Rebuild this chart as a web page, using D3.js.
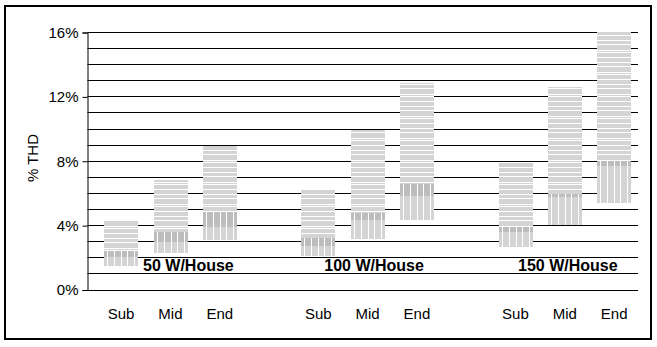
<!DOCTYPE html>
<html>
<head>
<meta charset="utf-8">
<script src="https://cdn.jsdelivr.net/npm/d3@7"></script>
<style>
  body { margin: 0; background: #fff; }
  svg { display: block; font-family: Arial, "Liberation Sans", sans-serif; }
</style>
</head>
<body>
<svg id="chart" width="657" height="347"></svg>
<script>
// data (% THD)
const groups = ["50 W/House", "100 W/House", "150 W/House"]
const positions = ["Sub", "Mid", "End"]
const highs     = [4.29, 6.83, 8.94,  6.2, 9.88, 12.8,  7.9, 12.6, 16.0]
const splits    = [2.38, 3.56, 4.84,  3.2, 4.78, 6.57,  3.91, 5.94, 8.0]
const darkLows  = [2.05, 2.94, 3.87,  2.73, 4.33, 5.78, 3.6, 5.73, 7.66]
const lows      = [1.49, 2.25, 3.1,   2.1, 3.12, 4.33,  2.67, 3.98, 5.4]
const yTicks = [0, 4, 8, 12, 16]

const bars = []
groups.forEach((g, gi) => {
  positions.forEach((p, pi) => {
    let i = gi * 3 + pi
    bars.push({ group: g, pos: p, high: highs[i], split: splits[i], darkLow: darkLows[i], low: lows[i] })
  })
})

const svg = d3.select("#chart")

const plotLeft = 87.5, plotRight = 638

var y = d3.scaleLinear().domain([0, 16]).range([289.5, 32])

var xGroup = d3.scaleBand().domain(groups).range([96.4, 96.4 + 3 * 197.2])
var xPos = d3.scaleBand().domain(positions).range([0, 148]).paddingInner(0.32).paddingOuter(0.16)

// outer frame
svg.append("rect")
  .attr("x", 5).attr("y", 6)
  .attr("width", 646).attr("height", 333)
  .attr("fill", "none").attr("stroke", "#000").attr("stroke-width", 2)

// horizontal stripe pattern
let defs = svg.append("defs")
let pat = defs.append("pattern")
  .attr("id", "hstripes")
  .attr("patternUnits", "userSpaceOnUse")
  .attr("width", 10).attr("height", 22)
pat.append("rect").attr("width", 10).attr("height", 22).attr("fill", "#d4d4d4")
;[0, 6, 8, 13, 18].forEach(function(o) {
  pat.append("rect").attr("x", 0).attr("y", o).attr("width", 10).attr("height", 1).attr("fill", "#fff")
})

// gridlines
svg.append("g")
  .attr("class", "grid")
  .selectAll("line")
  .data(d3.range(1, 17))
  .enter().append("line")
    .attr("x1", plotLeft).attr("x2", plotRight)
    .attr("y1", d => Math.round(y(d)) + 0.5)
    .attr("y2", d => Math.round(y(d)) + 0.5)
    .attr("stroke", "#000")
    .attr("stroke-width", 1)

// y axis
var yAxis = d3.axisLeft(y)
  .tickValues(yTicks)
  .tickSize(5)
  .tickPadding(4)
  .tickFormat(d => d + "%")

var yAxisG = svg.append("g")
  .attr("transform", `translate(${plotLeft},0.5)`)
  .call(yAxis)
yAxisG.select(".domain").attr("stroke", "#000")
yAxisG.selectAll(".tick line").attr("stroke", "#000")
yAxisG.selectAll(".tick text")
  .attr("font-size", 15)
  .attr("font-family", "Arial, 'Liberation Sans', sans-serif")
  .attr("fill", "#000")

// x axis line at 0%
svg.append("line")
  .attr("x1", plotLeft).attr("x2", plotRight)
  .attr("y1", Math.round(y(0)) + 0.5).attr("y2", Math.round(y(0)) + 0.5)
  .attr("stroke", "#000")

// axis title
svg.append("text")
  .attr("transform", "translate(38,158) rotate(-90)")
  .attr("text-anchor", "middle")
  .attr("font-size", 15)
  .text("% THD")

function barX(d) { return xGroup(d.group) + xPos(d.pos) }

// bars
var barG = svg.append("g").attr("class", "bars")
  .selectAll("g")
  .data(bars)
  .enter().append("g")

barG.append("rect")
  .attr("x", d => Math.round(barX(d)))
  .attr("y", d => Math.round(y(d.high)))
  .attr("width", Math.round(xPos.bandwidth()))
  .attr("height", d => Math.round(y(d.split)) - Math.round(y(d.high)))
  .attr("fill", "url(#hstripes)")

barG.append("rect")
  .attr("x", d => Math.round(barX(d)))
  .attr("y", d => Math.round(y(d.split)))
  .attr("width", Math.round(xPos.bandwidth()))
  .attr("height", d => Math.round(y(d.darkLow)) - Math.round(y(d.split)))
  .attr("fill", "#bdbdbd")

barG.append("rect")
  .attr("x", d => Math.round(barX(d)))
  .attr("y", d => Math.round(y(d.darkLow)))
  .attr("width", Math.round(xPos.bandwidth()))
  .attr("height", d => Math.round(y(d.low)) - Math.round(y(d.darkLow)))
  .attr("fill", "#d4d4d4")

// vertical hatching in the lower part
barG.each(function(d) {
  let g = d3.select(this)
  let x0 = Math.round(barX(d))
  let w = Math.round(xPos.bandwidth())
  for (let k = 0; k < 5; k++) {
    let xx = x0 + 3 + Math.round(k * w / 5)
    g.append("rect")
      .attr("x", xx).attr("y", Math.round(y(d.split)))
      .attr("width", 1)
      .attr("height", Math.round(y(d.low)) - Math.round(y(d.split)))
      .attr("fill", "#fff")
  }
})

// category labels
svg.append("g")
  .selectAll("text")
  .data(bars)
  .enter().append("text")
    .attr("x", d => barX(d) + xPos.bandwidth() / 2)
    .attr("y", 319)
    .attr("text-anchor", "middle")
    .attr("font-size", 15)
    .text(d => d.pos)

// group labels
var groupLabelShift = [18, 6.5, 3]
svg.append("g")
  .selectAll("text")
  .data(groups)
  .enter().append("text")
    .attr("x", (d, i) => xGroup(d) + xPos("Mid") + xPos.bandwidth() / 2 + groupLabelShift[i])
    .attr("y", 271)
    .attr("text-anchor", "middle")
    .attr("font-size", 16)
    .attr("font-weight", "bold")
    .text(d => d)
</script>
</body>
</html>
